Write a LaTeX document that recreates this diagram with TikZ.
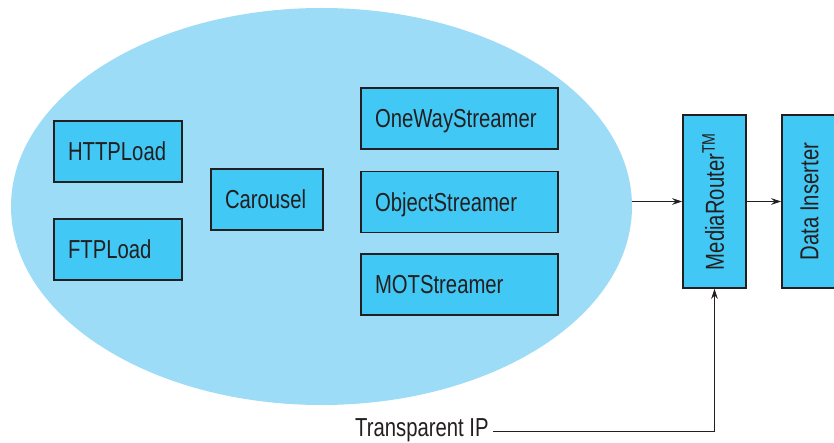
\documentclass[tikz,border=0pt]{standalone}
\usepackage{fontspec}
\setmainfont{Liberation Sans}[FakeStretch=0.78]
\usetikzlibrary{shapes.geometric,arrows.meta}
\definecolor{cloudblue}{HTML}{9DDCF6}
\definecolor{boxblue}{HTML}{42C8F4}
\definecolor{ink}{HTML}{231F20}
\begin{document}
\begin{tikzpicture}[x=1pt,y=-1pt,
  every node/.style={font=\fontsize{26}{28}\selectfont, text=ink},
  box/.style={draw=ink, line width=1.5pt, fill=boxblue, inner xsep=14pt,
    minimum height=61pt, align=left, text height=18.7pt, text depth=0pt},
  vbox/.style={draw=ink, line width=1.5pt, fill=boxblue, rotate=90,
    minimum width=173pt, minimum height=63pt, inner sep=0pt, text height=18.7pt, text depth=0pt},
  arrow/.style={draw=ink, line width=0.9pt, -{Stealth[length=10pt,width=6.5pt]}}]
\useasboundingbox (0,0) rectangle (834,443);
\node[ellipse, fill=cloudblue, minimum width=621pt, minimum height=397pt, inner sep=0pt] (cloud) at (321.5,206.5) {};
\node[box, text width=100pt] (http) at (118,151.5) {HTTPLoad};
\node[box, text width=100pt] (ftp) at (118,249.5) {FTPLoad};
\node[box, text width=84pt] (car) at (267,199.5) {Carousel};
\node[box, text width=169pt] (one) at (459.5,118.5) {OneWayStreamer};
\node[box, text width=169pt] (obj) at (459.5,202) {ObjectStreamer};
\node[box, text width=169pt] (mot) at (459.5,284.5) {MOTStreamer};
\node[vbox] (mr) at (714.5,201.5) {MediaRouter\textsuperscript{TM}};
\node[vbox, minimum height=54pt] (di) at (809,201.5) {Data Inserter};
\node[anchor=west, inner xsep=4.5pt, inner ysep=0pt, text height=18.7pt, text depth=0pt] (tip) at (350.5,427) {Transparent IP};
\draw[arrow] (mr.north -| cloud.east) -- (mr.north);
\draw[arrow] (mr.south) -- (di.north);
\draw[arrow] ([yshift=-4pt]tip.east) -| (mr.west);
\end{tikzpicture}
\end{document}
